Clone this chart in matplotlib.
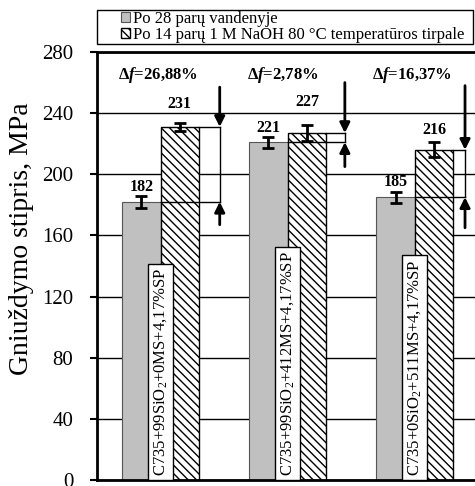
import numpy as np
import matplotlib
matplotlib.use('Agg')
import matplotlib.pyplot as plt
from matplotlib.patches import Rectangle

plt.rcParams['font.family'] = ['Liberation Serif', 'DejaVu Serif']
plt.rcParams['mathtext.fontset'] = 'custom'
plt.rcParams['mathtext.rm'] = 'Liberation Serif'
plt.rcParams['mathtext.it'] = 'Liberation Serif:italic:bold'
plt.rcParams['mathtext.bf'] = 'Liberation Serif:bold'
plt.rcParams['hatch.linewidth'] = 1.0

# Data
groups = ['C735+99SiO$_2$+0MS+4,17%SP',
          'C735+99SiO$_2$+412MS+4,17%SP',
          'C735+0SiO$_2$+511MS+4,17%SP']
water = [182, 221, 185]
water_err = [4, 3.5, 3.5]
naoh = [231, 227, 216]
naoh_err = [2.5, 5.5, 5]
delta_f = ['26,88', '2,78', '16,37']
legend_labels = ['Po 28 parų vandenyje',
                 'Po 14 parų 1 M NaOH 80 °C temperatūros tirpale']

W, H = 475, 486
fig = plt.figure(figsize=(W / 100, H / 100), dpi=100)
ax = fig.add_axes([97 / W, 1 - 480 / H, (478.5 - 97) / W, (480 - 52) / H])

x = np.arange(len(groups))
bw = 0.303

ax.set_axisbelow(True)
ax.yaxis.grid(True, color='black', lw=1.0)

b1 = ax.bar(x - bw / 2, water, bw, color='#c0c0c0', edgecolor='#555555', lw=0.8, zorder=2)
b2 = ax.bar(x + bw / 2, naoh, bw, color='white', edgecolor='black', hatch='\\\\\\\\', lw=1.0, zorder=2)
ax.errorbar(x - bw / 2, water, yerr=water_err, fmt='none', ecolor='black', elinewidth=2, capsize=4, capthick=2, zorder=4)
ax.errorbar(x + bw / 2, naoh, yerr=naoh_err, fmt='none', ecolor='black', elinewidth=2, capsize=4, capthick=2, zorder=4)

# value labels
water_dy = [10, 9, 10]
naoh_dy = [15, 20, 13]
for i in range(len(groups)):
    ax.text(x[i] - bw / 2, water[i] + water_dy[i], str(water[i]), ha='center', va='center',
            fontsize=11.5, fontweight='bold', zorder=5)
    ax.text(x[i] + bw / 2, naoh[i] + naoh_dy[i], str(naoh[i]), ha='center', va='center',
            fontsize=11.5, fontweight='bold', zorder=5)

# delta f labels and arrows
arrow_off = [0.465, 0.449, 0.394]
arrow_top = [257, 260, 258]
arrow_bot = [167, 205, 165]
dx_text = [-0.02, -0.04, -0.02]
for i in range(len(groups)):
    ax.text(x[i] + dx_text[i], 265, '\u0394$f$=' + delta_f[i] + '%', ha='center', va='center',
            fontsize=12, fontweight='bold', zorder=5)
    xa = x[i] + arrow_off[i]
    ax.plot([x[i] + bw, xa], [naoh[i], naoh[i]], color='black', lw=1.0, zorder=3)
    ax.plot([x[i], xa], [water[i], water[i]], color='black', lw=1.0, zorder=3)
    ax.plot([xa, xa], [water[i], naoh[i]], color='black', lw=1.0, zorder=3)
    ax.annotate('', xy=(xa, naoh[i]), xytext=(xa, arrow_top[i]),
                arrowprops=dict(arrowstyle='-|>', lw=2, color='black', mutation_scale=15,
                                shrinkA=0, shrinkB=0), zorder=5)
    ax.annotate('', xy=(xa, water[i]), xytext=(xa, arrow_bot[i]),
                arrowprops=dict(arrowstyle='-|>', lw=2, color='black', mutation_scale=15,
                                shrinkA=0, shrinkB=0), zorder=5)

# category labels in boxes
for i in range(len(groups)):
    ax.annotate(groups[i], xy=(x[i], 0), xytext=(0, 3), textcoords='offset points',
                rotation=90, ha='center', va='bottom', fontsize=12, zorder=6,
                bbox=dict(boxstyle='square,pad=0.25', fc='white', ec='black', lw=1.0))

ax.set_xlim(-0.5, 2.5)
ax.set_ylim(0, 280)
ax.set_yticks(np.arange(0, 281, 40))
ax.set_xticks([])
ax.tick_params(axis='y', direction='out', length=5, width=1.5, labelsize=15, pad=12)
for s in ax.spines.values():
    s.set_linewidth(2)
ax.set_ylabel('Gniuždymo stipris, MPa', fontsize=20)
ax.yaxis.set_label_coords(-0.166, 0.563)

# legend
fig.patches.append(Rectangle((97 / W, 1 - 44 / H), (473 - 97) / W, 34 / H, transform=fig.transFigure,
                             fill=False, ec='black', lw=1.0))
fig.legend([b1, b2], legend_labels, loc='upper left', bbox_to_anchor=(119 / W, 1 - 9 / H),
           frameon=False, fontsize=12, handlelength=0.55, handleheight=0.55, handletextpad=0.2,
           labelspacing=0.02, borderpad=0.1, borderaxespad=0)

fig.savefig('out.png', dpi=100)
